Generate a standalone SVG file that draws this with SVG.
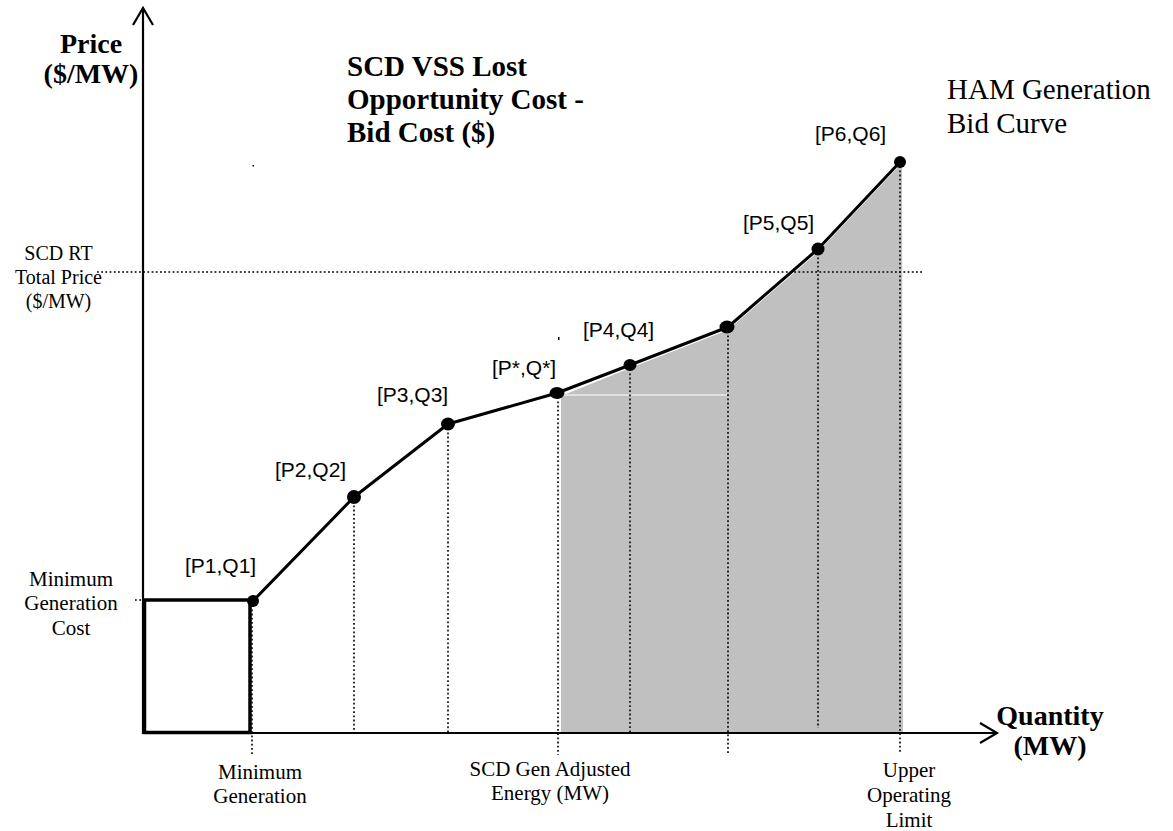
<svg xmlns="http://www.w3.org/2000/svg" width="1173" height="831" viewBox="0 0 1173 831">
<defs>
<style>
.serif{font-family:"Liberation Serif","Times New Roman",serif;fill:#000}
.b{font-weight:bold;font-size:28px}
.t29{font-weight:bold;font-size:29px}
.r21{font-size:21px}
.r20{font-size:20px}
.sans{font-family:"Liberation Sans",Arial,sans-serif;font-size:21px;fill:#000}
.axis{stroke:#000;stroke-width:2.2;fill:none}
.dot{stroke:#000;stroke-width:1.6;stroke-dasharray:1.8 2.4;fill:none}
.curve{stroke:#000;stroke-width:3;fill:none;stroke-linejoin:round}
.pt{fill:#000}
</style>
</defs>
<rect width="1173" height="831" fill="#fff"/>

<g id="shading">
<polygon points="561,396 630,368 728,330 818,252 900,165 902,165 903,732 561,732" fill="#c0c0c0"/>
<line x1="561" y1="395" x2="727" y2="395" stroke="#fff" stroke-width="1"/>
</g>

<g id="guides">
<line class="dot" x1="97" y1="272" x2="922" y2="272"/>
<line class="dot" x1="135" y1="600" x2="253" y2="600"/>
<line class="dot" x1="252" y1="601" x2="252" y2="755"/>
<line class="dot" x1="354" y1="497" x2="354" y2="733"/>
<line class="dot" x1="448" y1="424" x2="448" y2="733"/>
<line class="dot" x1="558" y1="393" x2="558" y2="755"/>
<line class="dot" x1="630" y1="365" x2="630" y2="733"/>
<line class="dot" x1="728" y1="327" x2="728" y2="755"/>
<line class="dot" x1="818" y1="249" x2="818" y2="728"/>
<line class="dot" x1="900" y1="162" x2="900" y2="752"/>
<rect x="252.5" y="165" width="1.5" height="1.5" fill="#000"/>
<rect x="558" y="337" width="1.5" height="3" fill="#000"/>
</g>

<g id="axes">
<line class="axis" x1="143" y1="8" x2="143" y2="734"/>
<polyline class="axis" points="133,25 143,8 153,25"/>
<line class="axis" x1="143" y1="733" x2="996" y2="733"/>
<polyline class="axis" points="980,723 997,733 980,743"/>
</g>

<g id="min-gen-box">
<rect x="144.5" y="600" width="105.5" height="132.5" fill="none" stroke="#000" stroke-width="3.5"/>
</g>

<g id="connectors">
<polyline class="curve" points="253,601 354,497 448,424 557,393 630,365 728,327 818,249 900,162"/>
</g>

<g id="p1"><ellipse class="pt" cx="253" cy="601" rx="6" ry="6"/><text class="sans" x="185" y="573">[P1,Q1]</text></g>
<g id="p2"><ellipse class="pt" cx="354" cy="497" rx="7" ry="7"/><text class="sans" x="275" y="477">[P2,Q2]</text></g>
<g id="p3"><ellipse class="pt" cx="448" cy="424" rx="7" ry="6.5"/><text class="sans" x="377" y="402">[P3,Q3]</text></g>
<g id="pstar"><ellipse class="pt" cx="557" cy="393" rx="7.5" ry="6"/><text class="sans" x="492" y="375">[P*,Q*]</text></g>
<g id="p4"><ellipse class="pt" cx="630" cy="365" rx="6.5" ry="6"/><text class="sans" x="583" y="337">[P4,Q4]</text></g>
<g id="p-mid"><ellipse class="pt" cx="727" cy="327" rx="7.5" ry="6.5"/></g>
<g id="p5"><ellipse class="pt" cx="818" cy="249" rx="6.5" ry="6.5"/><text class="sans" x="743" y="230">[P5,Q5]</text></g>
<g id="p6"><ellipse class="pt" cx="900" cy="162" rx="6" ry="6"/><text class="sans" x="815" y="141">[P6,Q6]</text></g>

<g id="y-label">
<text class="serif b" text-anchor="middle" x="91" y="53">Price</text>
<text class="serif b" text-anchor="middle" x="91" y="83">($/MW)</text>
</g>

<g id="title">
<text class="serif t29" x="347" y="76">SCD VSS Lost</text>
<text class="serif t29" x="347" y="109">Opportunity Cost -</text>
<text class="serif t29" x="347" y="142">Bid Cost ($)</text>
</g>

<g id="ham-label">
<text class="serif" font-size="29" x="947" y="99">HAM Generation</text>
<text class="serif" font-size="29" x="947" y="133">Bid Curve</text>
</g>

<g id="scd-rt-label">
<text class="serif r20" text-anchor="middle" x="58.5" y="260">SCD RT</text>
<text class="serif r20" text-anchor="middle" x="58.5" y="284">Total Price</text>
<text class="serif r20" text-anchor="middle" x="58.5" y="308">($/MW)</text>
</g>

<g id="min-gen-cost-label">
<text class="serif r21" text-anchor="middle" x="71" y="586">Minimum</text>
<text class="serif r21" text-anchor="middle" x="71" y="610">Generation</text>
<text class="serif r21" text-anchor="middle" x="71" y="635">Cost</text>
</g>

<g id="x-label">
<text class="serif b" text-anchor="middle" x="1050" y="725">Quantity</text>
<text class="serif b" text-anchor="middle" x="1050" y="755">(MW)</text>
</g>

<g id="min-gen-label">
<text class="serif r21" text-anchor="middle" x="260" y="779">Minimum</text>
<text class="serif r21" text-anchor="middle" x="260" y="803">Generation</text>
</g>

<g id="scd-gen-label">
<text class="serif r21" text-anchor="middle" x="550" y="776">SCD Gen Adjusted</text>
<text class="serif r21" text-anchor="middle" x="550" y="800">Energy (MW)</text>
</g>

<g id="uol-label">
<text class="serif r21" text-anchor="middle" x="909" y="777">Upper</text>
<text class="serif r21" text-anchor="middle" x="909" y="802">Operating</text>
<text class="serif r21" text-anchor="middle" x="909" y="827">Limit</text>
</g>
</svg>
